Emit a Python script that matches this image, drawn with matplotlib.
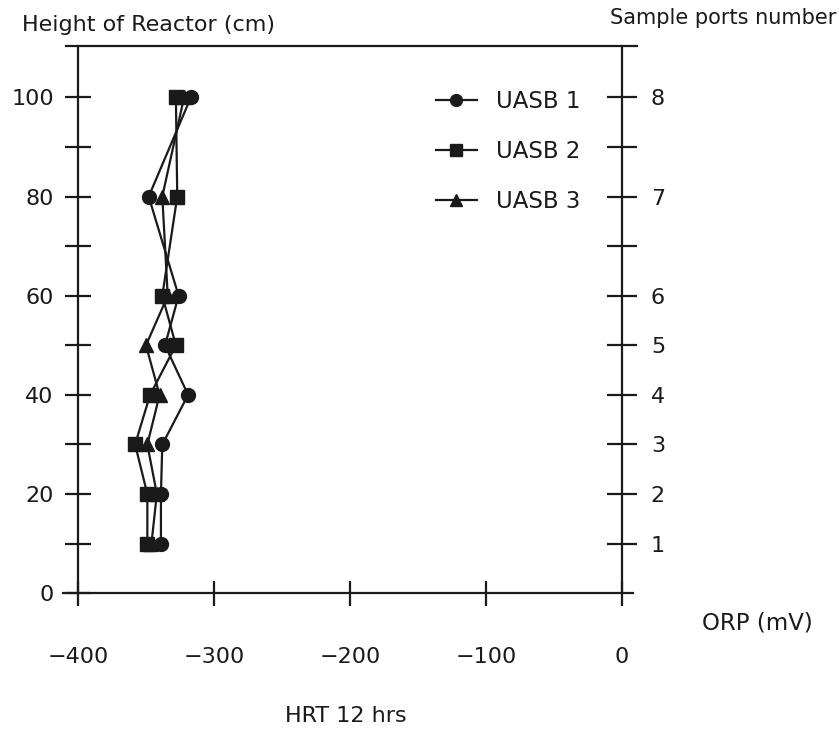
import numpy as np
import matplotlib
matplotlib.use("Agg")
from matplotlib import pyplot as plt
from matplotlib.lines import Line2D

plt.rcParams['font.family'] = ['DejaVu Sans']

# sample port heights (cm) and port numbers
height = [100, 80, 60, 50, 40, 30, 20, 10]
port_heights = [10, 20, 30, 40, 50, 60, 80, 100]
port_labels = ['1', '2', '3', '4', '5', '6', '7', '8']
orp_ticks = [-400, -300, -200, -100, 0]
orp_labels = ['\u2212400', '\u2212300', '\u2212200', '\u2212100', '0']

# ORP profiles (mV) at HRT 12 hrs
orp_uasb1 = [-317, -348, -326, -336, -319, -338, -339, -339]
orp_uasb2 = [-328, -327, -338, -328, -347, -358, -349, -349]
orp_uasb3 = [-322, -338, -334, -350, -340, -349, -342, -346]

ink = '#1a1a1a'

fig = plt.figure(figsize=(8.39, 7.36), dpi=100)
ax = fig.add_axes([0.093, 0.194, 0.648, 0.743])

lw = 1.6
ax.plot(orp_uasb1, height, '-o', color=ink, lw=lw, ms=10, label='UASB 1')
ax.plot(orp_uasb2, height, '-s', color=ink, lw=lw, ms=10, label='UASB 2')
ax.plot(orp_uasb3, height, '-^', color=ink, lw=lw, ms=10, label='UASB 3')

ax.set_xlim(-400, 0)
ax.set_ylim(0, 110.3)

for s in ax.spines.values():
    s.set_linewidth(1.6)
    s.set_color(ink)

ax.set_xticks(orp_ticks)
ax.set_xticklabels(orp_labels)
ax.set_yticks([0, 20, 40, 60, 80, 100])
ax.set_yticks([10, 30, 50, 70, 90], minor=True)
ax.tick_params(axis='both', which='both', direction='inout', width=1.6,
               color=ink, labelsize=16, labelcolor=ink)
ax.tick_params(axis='y', which='both', length=19, pad=8)
ax.tick_params(axis='x', which='major', length=18, pad=30)

# port numbers on the right side
ax2 = ax.twinx()
ax2.set_ylim(ax.get_ylim())
ax2.set_yticks(port_heights)
ax2.set_yticklabels(port_labels)
ax2.set_yticks([70, 90], minor=True)
ax2.tick_params(axis='y', which='both', direction='inout', length=22, width=1.6,
                color=ink, labelsize=16, labelcolor=ink, pad=10)
for s in ax2.spines.values():
    s.set_visible(False)

# top and bottom lines run a little past the frame
ax.spines['top'].set_visible(False)
ax.spines['bottom'].set_visible(False)
ax.add_line(Line2D([-0.022, 1.028], [1, 1], transform=ax.transAxes,
                   color=ink, lw=1.6, clip_on=False))
ax.add_line(Line2D([-0.027, 1.02], [0, 0], transform=ax.transAxes,
                   color=ink, lw=1.6, clip_on=False))

ax.legend(loc='upper left', bbox_to_anchor=(0.62, 0.958), frameon=False,
          fontsize=16.5, handlelength=1.8, handletextpad=0.85, labelspacing=1.17,
          markerscale=0.85, labelcolor=ink)

fig.text(22 / 839, 1 - 25 / 736, 'Height of Reactor (cm)', fontsize=16,
         va='center', ha='left', color=ink)
fig.text(836 / 839, 1 - 18 / 736, 'Sample ports number', fontsize=15,
         va='center', ha='right', color=ink)
fig.text(757 / 839, 1 - 623 / 736, 'ORP (mV)', fontsize=16.5,
         va='center', ha='center', color=ink)
fig.text(346 / 839, 1 - 716 / 736, 'HRT 12 hrs', fontsize=16,
         va='center', ha='center', color=ink)

fig.savefig('out.png', dpi=100)
